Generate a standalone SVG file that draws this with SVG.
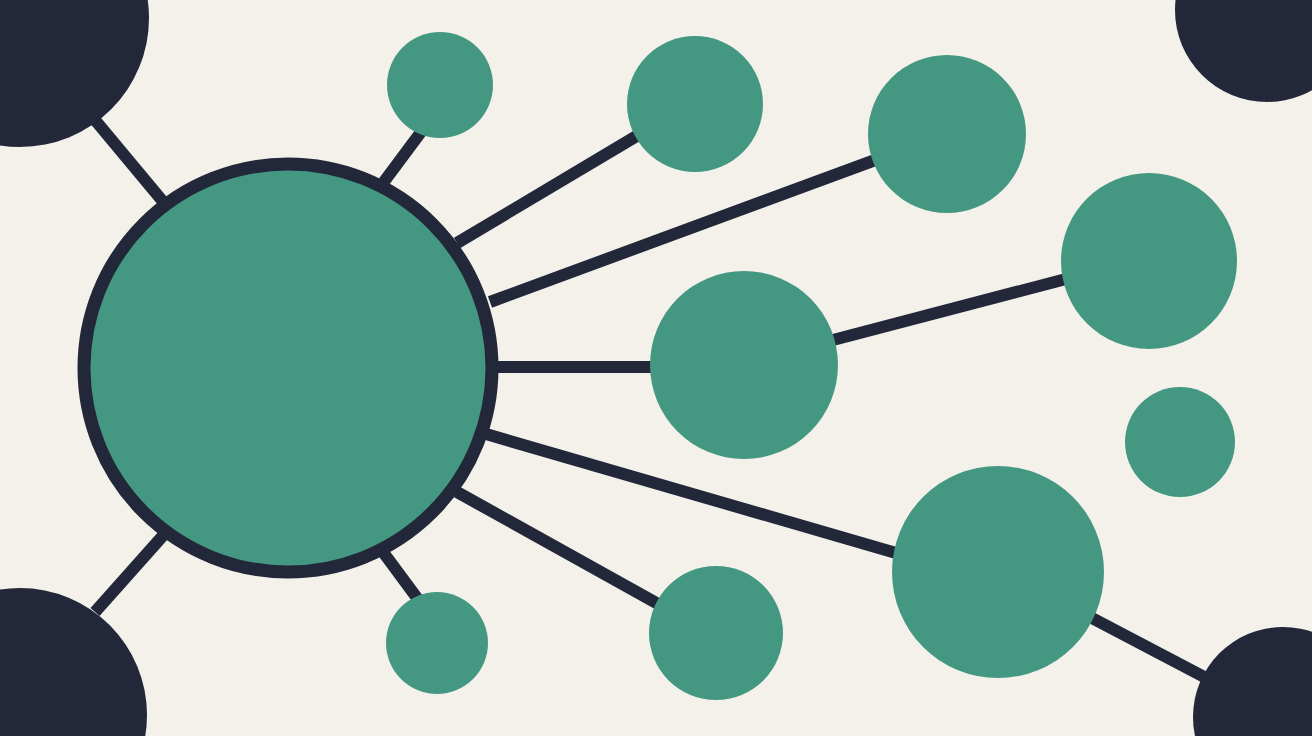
<svg xmlns="http://www.w3.org/2000/svg" width="1312" height="736" viewBox="0 0 1312 736">
<style>
.g{fill:#449882}
.d{fill:#22273a}
.l{stroke:#22273a;stroke-width:12;fill:none}
</style>
<rect width="1312" height="736" fill="#f3f1ea"/>
<g id="connectors">
<line class="l" x1="95" y1="120" x2="170" y2="210"/>
<line class="l" x1="383" y1="183" x2="424" y2="128"/>
<line class="l" x1="457" y1="243" x2="640" y2="134"/>
<line class="l" x1="490" y1="302" x2="878" y2="159"/>
<line class="l" x1="495" y1="367" x2="652" y2="367"/>
<line class="l" x1="833" y1="340" x2="1066" y2="279"/>
<line class="l" x1="486" y1="434" x2="896" y2="553"/>
<line class="l" x1="457" y1="492" x2="660" y2="605"/>
<line class="l" x1="383" y1="552" x2="420" y2="602"/>
<line class="l" x1="95" y1="612" x2="168" y2="530"/>
<line class="l" x1="1090" y1="617" x2="1210" y2="680"/>
</g>
<g id="corner-tl"><circle class="d" cx="20" cy="18" r="129"/></g>
<g id="corner-tr"><circle class="d" cx="1267" cy="10" r="92"/></g>
<g id="corner-bl"><circle class="d" cx="20" cy="715" r="127"/></g>
<g id="corner-br"><circle class="d" cx="1283" cy="717" r="90"/></g>
<g id="hub"><circle cx="288" cy="368" r="204" fill="#449882" stroke="#22273a" stroke-width="13"/></g>
<g id="n1"><circle class="g" cx="440" cy="85" r="53"/></g>
<g id="n2"><circle class="g" cx="695" cy="104" r="68"/></g>
<g id="n3"><circle class="g" cx="947" cy="134" r="79"/></g>
<g id="n4"><circle class="g" cx="1149" cy="261" r="88"/></g>
<g id="n5"><circle class="g" cx="744" cy="365" r="94"/></g>
<g id="n6"><circle class="g" cx="1180" cy="442" r="55"/></g>
<g id="n7"><circle class="g" cx="998" cy="572" r="106"/></g>
<g id="n8"><circle class="g" cx="716" cy="633" r="67"/></g>
<g id="n9"><circle class="g" cx="437" cy="643" r="51"/></g>
</svg>
